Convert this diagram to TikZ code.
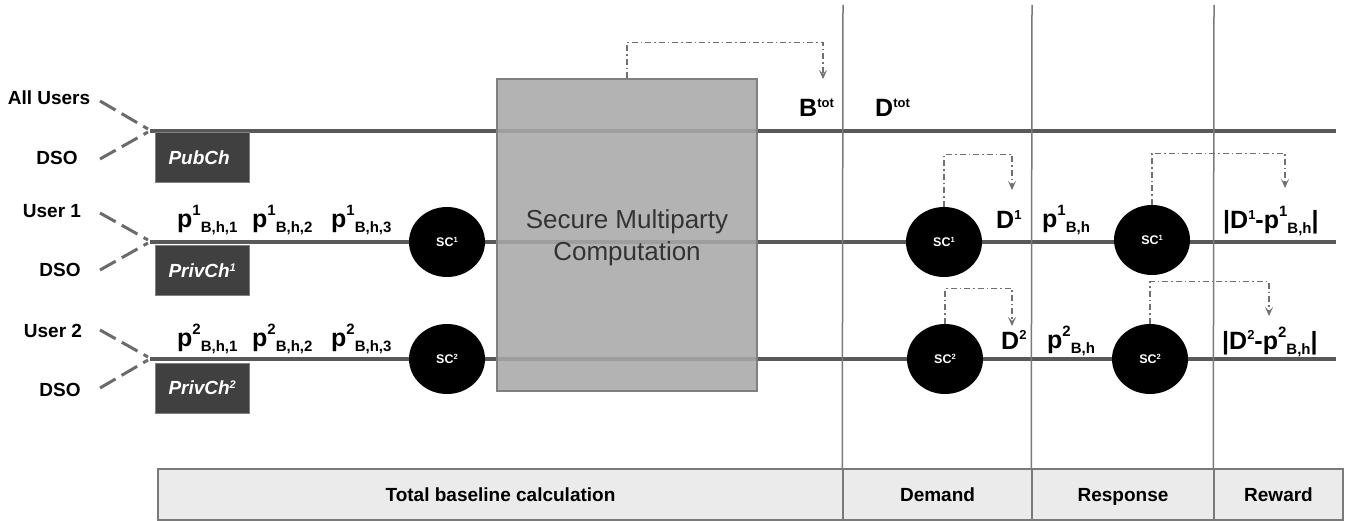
\documentclass[tikz,border=0pt]{standalone}
\usepackage{fontspec}
\setmainfont{Liberation Sans}
\usetikzlibrary{shapes.geometric,arrows.meta,calc}
\definecolor{linegray}{HTML}{595959}
\definecolor{dashgray}{HTML}{6B6B6B}
\definecolor{arrgray}{HTML}{707070}
\definecolor{vgray}{HTML}{7A7A7A}
\definecolor{smcfill}{HTML}{A8A8A8}
\definecolor{smcdraw}{HTML}{808080}
\definecolor{chfill}{HTML}{404040}
\definecolor{barfill}{HTML}{EBEBEB}
\newcommand\lbl[3]{#1\raisebox{12pt}{\fontsize{15}{15}\selectfont #2}\raisebox{-5pt}{\fontsize{15}{15}\selectfont #3}}
\newcommand\supr[1]{\raisebox{9.5pt}{\fontsize{13}{13}\selectfont #1}}
\newcommand\scl[1]{SC\raisebox{4pt}{\fontsize{7.5}{7.5}\selectfont #1}}
\begin{document}
\begin{tikzpicture}[x=1pt,y=-1pt,
  chan/.style={line width=4pt, draw=linegray},
  vline/.style={line width=1.5pt, draw=vgray},
  usr/.style={font=\fontsize{19}{19}\selectfont\bfseries, text=black, inner sep=0pt},
  jdash/.style={line width=3pt, draw=dashgray, dash pattern=on 18pt off 7pt},
  chbox/.style={fill=chfill, draw=gray, line width=1pt, minimum height=50pt, text width=68pt, inner xsep=13pt, inner ysep=0pt, align=left, text=white, font=\fontsize{19}{19}\selectfont\bfseries\itshape, anchor=west},
  smcbox/.style={fill=smcfill, fill opacity=0.88, draw=smcdraw, line width=1.5pt, minimum width=260pt, minimum height=312pt, inner sep=0pt},
  sc/.style={ellipse, fill=black, minimum width=76pt, minimum height=70pt, inner sep=0pt, text=white, font=\fontsize{12.5}{12.5}\selectfont\bfseries},
  val/.style={anchor=base west, inner sep=0pt, font=\fontsize{25}{25}\selectfont\bfseries},
  flow/.style={draw=arrgray, line width=1.2pt, dash pattern=on 6pt off 3pt on 1.5pt off 3pt, -{Stealth[length=9pt,width=8pt,inset=4pt]}},
  bar/.style={fill=barfill, draw=vgray, line width=1.5pt, minimum height=51pt, inner sep=0pt, text height=14pt, text depth=0pt, font=\fontsize{19}{19}\selectfont\bfseries}
]
\useasboundingbox (0,0) rectangle (1356,521);

% junctions and line ends
\coordinate (j1) at (150,131);
\coordinate (j2) at (150,242);
\coordinate (j3) at (150,359);
\coordinate (e1) at (1336,131);
\coordinate (e2) at (1336,242);
\coordinate (e3) at (1336,359);

% horizontal channels
\draw[chan] (j1) -- (e1);
\draw[chan] (j2) -- (e2);
\draw[chan] (j3) -- (e3);

% SMC box
\node[smcbox] (smc) at (627,235) {};
\node[inner sep=0pt, align=center, text=black!80, font=\fontsize{26}{32}\selectfont] (smctext) at (627,238) {Secure Multiparty\\Computation};

% bottom bar
\node[bar, minimum width=685pt] (tb) at (500.5,494.5) {Total baseline calculation};
\node[bar, minimum width=189pt] (dm) at (937.5,494.5) {Demand};
\node[bar, minimum width=182pt] (rs) at (1123,494.5) {Response};
\node[bar, minimum width=129pt] (rw) at (1278.5,494.5) {Reward};

% vertical separators
\coordinate (v1) at (843,5);
\coordinate (v2) at (1032,5);
\coordinate (v3) at (1214,5);
\draw[vline] (v1) -- (dm.north west);
\draw[vline] (v2) -- (rs.north west);
\draw[vline] (v3) -- (rw.north west);

% user labels
\node[usr] (allu) at (49,98) {All Users};
\node[usr] (dso0) at (57,158) {DSO};
\node[usr] (u1) at (52,211) {User 1};
\node[usr] (dso1) at (60,270) {DSO};
\node[usr] (u2) at (53,331) {User 2};
\node[usr] (dso2) at (60,390) {DSO};

\coordinate (a0) at (100,101);
\coordinate (b0) at (100,159);
\coordinate (a1) at (100,213);
\coordinate (b1) at (100,270);
\coordinate (a2) at (100,330);
\coordinate (b2) at (100,388);
\draw[jdash] (a0) -- ($(j1)+(-2,-2)$);
\draw[jdash] (b0) -- ($(j1)+(-2,1)$);
\draw[jdash] (a1) -- ($(j2)+(-2,-2)$);
\draw[jdash] (b1) -- ($(j2)+(-2,1)$);
\draw[jdash] (a2) -- ($(j3)+(-2,-2)$);
\draw[jdash] (b2) -- ($(j3)+(-2,1)$);

% channel boxes
\node[chbox] (pub) at (155,158) {PubCh};
\node[chbox, minimum height=49pt] (priv1) at (155,270.5) {PrivCh\raisebox{6pt}{\fontsize{11}{11}\selectfont 1}};
\node[chbox] (priv2) at (155,388) {PrivCh\raisebox{6pt}{\fontsize{11}{11}\selectfont 2}};

% secret-share circles
\node[sc] (s1a) at (447,242) {\scl{1}};
\node[sc] (s2a) at (447,359) {\scl{2}};
\node[sc] (s1d) at (944,242) {\scl{1}};
\node[sc] (s2d) at (945,359) {\scl{2}};
\node[sc] (s1r) at (1152,240) {\scl{1}};
\node[sc] (s2r) at (1150,359) {\scl{2}};

% values
\node[val] (btot) at (799,117) {B\supr{tot}};
\node[val] (dtot) at (875,117) {D\supr{tot}};
\node[val] (p11) at (177,228) {\lbl{p}{1}{B,h,1}};
\node[val] (p12) at (252,228) {\lbl{p}{1}{B,h,2}};
\node[val] (p13) at (331,228) {\lbl{p}{1}{B,h,3}};
\node[val] (p21) at (177,346) {\lbl{p}{2}{B,h,1}};
\node[val] (p22) at (252,346) {\lbl{p}{2}{B,h,2}};
\node[val] (p23) at (331,346) {\lbl{p}{2}{B,h,3}};
\node[val] (d1) at (996,229) {D\supr{1}};
\node[val] (d2) at (1001,349) {D\supr{2}};
\node[val] (pb1) at (1042,228) {\lbl{p}{1}{B,h}};
\node[val] (pb2) at (1047,348) {\lbl{p}{2}{B,h}};
\node[val] (r1) at (1223,229) {|D\supr{1}-\lbl{p}{1}{B,h}|};
\node[val] (r2) at (1222,349) {|D\supr{2}-\lbl{p}{2}{B,h}|};

% result arrows
\coordinate (tB) at (823,79);
\coordinate (tD1) at (1012,190);
\coordinate (tR1) at (1285,188);
\coordinate (tD2) at (1012,326);
\coordinate (tR2) at (1269,316);
\draw[flow] (smc.north) -- ++(0,-36) -| (tB);
\draw[flow] (s1d.north) -- ++(0,-52) -| (tD1);
\draw[flow] (s1r.north) -- ++(0,-51) -| (tR1);
\draw[flow] (s2d.north) -- ++(0,-35) -| (tD2);
\draw[flow] (s2r.north) -- ++(0,-42) -| (tR2);
\end{tikzpicture}
\end{document}
